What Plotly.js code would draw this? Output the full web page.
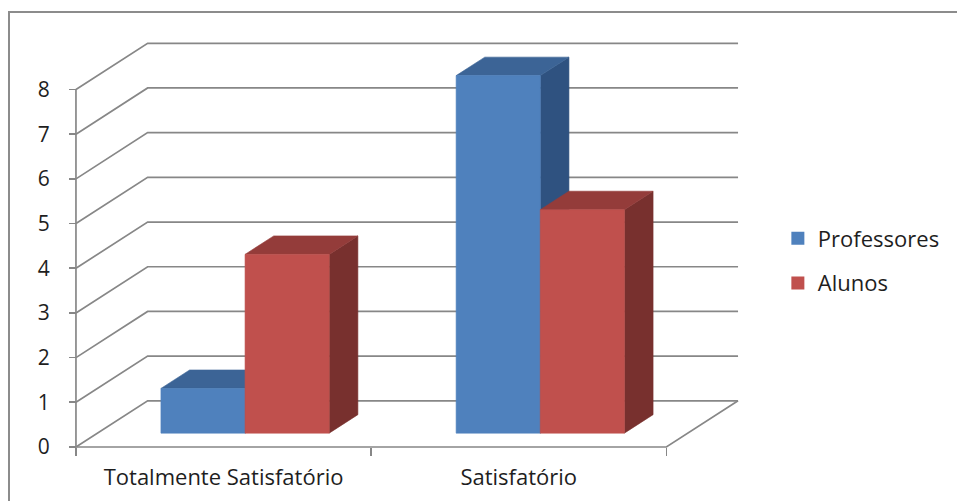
<!DOCTYPE html>
<html>
<head>
<meta charset="utf-8">
<script src="https://cdn.plot.ly/plotly-3.0.1.min.js"></script>
<style>
  html, body { margin: 0; padding: 0; background: #ffffff; }
  #wrap { position: relative; width: 957px; height: 501px; overflow: hidden; }
  #chart { position: absolute; left: 0; top: 0; width: 957px; height: 501px; }
  #frame { position: absolute; left: 8px; top: 11px; width: 960px; height: 500px;
           border-left: 2px solid #8c8c8c; border-top: 2px solid #8c8c8c; pointer-events: none; }
</style>
</head>
<body>
<div id="wrap">
  <div id="chart"></div>
  <div id="frame"></div>
</div>
<script>
// Survey results: number of answers per category
const categories = ['Totalmente Satisfatório', 'Satisfatório'];
const seriesNames = ['Professores', 'Alunos'];
const professores = [1, 8];
const alunos = [4, 5];
const yTicks = [0, 1, 2, 3, 4, 5, 6, 7, 8];

const values = [professores, alunos];
const frontColors = ['#4f81bd', '#c0504d'];
const topColors = ['#3c6496', '#943c3a'];
const sideColors = ['#2f5280', '#78302e'];

// Oblique projection: the whole floor depth expressed in axis units
const FW = 957, FH = 501;
const X0PX = 76, XUNIT = 296.5;      // pixel of x=0 and pixels per category
const Y0PX = 447, YUNIT = 44.69;     // pixel of y=0 and pixels per value unit
const DX = 72 / XUNIT, DY = 46.2 / YUNIT;
const F0 = 0.3, F1 = 0.7;            // bar front/back along the depth
const BW = 0.285;                    // bar width in category units
const nCat = categories.length;
const yMax = yTicks[yTicks.length - 1];

// whole-pixel margins with a little padding around the drawing
const marginL = X0PX - 9;
const marginR = FW - Math.round(X0PX + (nCat + DX) * XUNIT) - 9;
const marginB = FH - Y0PX - 5;
const marginT = Math.round(Y0PX - (yMax + DY) * YUNIT) - 5;
const xRange = [-(X0PX - marginL) / XUNIT, (FW - marginR - X0PX) / XUNIT];
const yRange = [-(FH - marginB - Y0PX) / YUNIT, (Y0PX - marginT) / YUNIT];

const gridColor = '#878787';
const traces = [];

function line(xs, ys) {
  traces.push({
    type: 'scatter', mode: 'lines', x: xs, y: ys, hoverinfo: 'skip', showlegend: false,
    line: { color: gridColor, width: 1.7 }
  });
}

// Side wall gridlines and back wall
yTicks.forEach(v => {
  line([0, DX, nCat + DX], [v, v + DY, v + DY]);
});
// Floor outline and front axes
line([0, nCat, nCat + DX], [0, 0, DY]);
line([0, 0], [0, yMax]);

function face(xs, ys, color) {
  traces.push({
    type: 'scatter', mode: 'lines', x: xs.concat([xs[0]]), y: ys.concat([ys[0]]),
    fill: 'toself', fillcolor: color, hoverinfo: 'skip', showlegend: false,
    line: { color: color, width: 0.6 }
  });
}

// 3D bars: side, top and front faces
values.forEach((vals, s) => {
  vals.forEach((v, c) => {
    const xl = c + 0.5 + (s - 1) * BW;
    const xr = xl + BW;
    const ax = F0 * DX, ay = F0 * DY, bx = F1 * DX, by = F1 * DY;
    face([xr + ax, xr + bx, xr + bx, xr + ax], [ay, by, v + by, v + ay], sideColors[s]);
    face([xl + ax, xr + ax, xr + bx, xl + bx], [v + ay, v + ay, v + by, v + by], topColors[s]);
    face([xl + ax, xr + ax, xr + ax, xl + ax], [ay, ay, v + ay, v + ay], frontColors[s]);
  });
});

// Legend entries
seriesNames.forEach((name, s) => {
  traces.push({
    type: 'scatter', mode: 'markers', x: [null], y: [null], name: name,
    legendgroup: name, showlegend: true,
    marker: { symbol: 'square', size: 13, color: frontColors[s] }
  });
});

const fontFamily = '"Open Sans", "Noto Sans", sans-serif';
const textColor = '#1e1e1e';
const plotW = FW - marginL - marginR, plotH = FH - marginT - marginB;

const layout = {
  width: FW, height: FH,
  paper_bgcolor: 'rgba(0,0,0,0)', plot_bgcolor: 'rgba(0,0,0,0)',
  margin: { l: marginL, r: marginR, t: marginT, b: marginB, pad: 0 },
  showlegend: true,
  legend: {
    x: (781 - marginL) / plotW, xanchor: 'left',
    y: (FH - marginB - 261) / plotH, yanchor: 'middle',
    traceorder: 'grouped', tracegroupgap: 13, itemwidth: 30,
    font: { family: fontFamily, size: 22, color: textColor },
    bgcolor: 'rgba(0,0,0,0)'
  },
  xaxis: {
    range: xRange, anchor: 'free', position: (FH - marginB - Y0PX) / plotH,
    showgrid: false, zeroline: false, showline: false, fixedrange: true,
    tickmode: 'array', tickvals: categories.map((_, i) => i + 0.5), ticktext: categories,
    ticks: '', ticklabelstandoff: 15,
    tickfont: { family: fontFamily, size: 22, color: textColor },
    minor: { tickmode: 'array', tickvals: categories.map((_, i) => i).concat([nCat]),
             ticks: 'outside', ticklen: 8, tickwidth: 1.7, tickcolor: gridColor, showgrid: false }
  },
  yaxis: {
    range: yRange, anchor: 'free', position: (X0PX - marginL) / plotW,
    showgrid: false, zeroline: false, showline: false, fixedrange: true,
    tickmode: 'array', tickvals: yTicks, ticktext: yTicks.map(String),
    ticks: 'outside', ticklen: 7, tickwidth: 1.7, tickcolor: gridColor,
    ticklabelstandoff: 15,
    tickfont: { family: fontFamily, size: 21, color: textColor }
  }
};

Plotly.newPlot('chart', traces, layout, { staticPlot: true, displayModeBar: false });
</script>
</body>
</html>
